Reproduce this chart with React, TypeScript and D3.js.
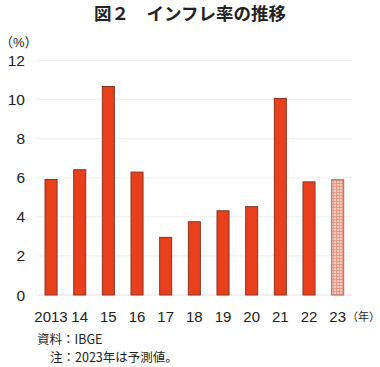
import React from "react";
import * as d3 from "d3";

const years = ["2013", "14", "15", "16", "17", "18", "19", "20", "21", "22", "23"];
const inflation = [5.91, 6.41, 10.67, 6.29, 2.95, 3.75, 4.31, 4.52, 10.06, 5.79, 5.9];
const forecast = [false, false, false, false, false, false, false, false, false, false, true];
const yTicks = [0, 2, 4, 6, 8, 10, 12];

const W = 380;
const H = 367;
const left = 36.7;
const right = 352;
const top = 60.5;
const bottom = 295;
const font = "'Noto Sans CJK JP', 'Noto Sans', sans-serif";
const numFont = "'Liberation Sans', Arial, sans-serif";

export default function App() {
  const x = d3.scaleBand<string>().domain(years).range([left, right]).paddingInner(0.58).paddingOuter(0.29);
  const y = d3.scaleLinear().domain([0, 12]).range([bottom, top]);
  return (
    <svg width={W} height={H} style={{ position: "absolute", left: 0, top: 0 }} fontFamily={font}>
      <defs>
        <pattern id="hatch" width="3" height="3" patternUnits="userSpaceOnUse">
          <rect width="3" height="3" fill="#f7cfc4" />
          <path d="M0 0.5H3M0.5 0V3" stroke="#e8826c" strokeWidth="0.7" />
        </pattern>
      </defs>
      <rect width={W} height={H} fill="#fff" />
      <text x={190} y={20} textAnchor="middle" fontSize={17.5} fontWeight="bold" fill="#222">
        図２　インフレ率の推移
      </text>
      <text x={0} y={47} fontSize={13} fill="#222">（<tspan fontFamily={numFont}>%</tspan>）</text>
      {yTicks.map((t) => (
        <g key={t}>
          <line x1={left} x2={right} y1={y(t)} y2={y(t)} stroke={t === 0 ? "#e2e2e2" : "#efefef"} strokeWidth={1} />
          <text x={25} y={y(t) + 5.5} textAnchor="end" fontSize={15.5} fontFamily={numFont} fill="#222">{t}</text>
        </g>
      ))}
      {years.map((yr, i) => (
        <rect
          key={yr}
          x={x(yr)}
          y={y(inflation[i])}
          width={x.bandwidth()}
          height={y(0) - y(inflation[i])}
          fill={forecast[i] ? "url(#hatch)" : "#e8401c"}
          stroke={forecast[i] ? "#a86a60" : "#8a3322"}
          strokeWidth={1}
        />
      ))}
      {years.map((yr) => (
        <text key={yr} x={(x(yr) as number) + x.bandwidth() / 2} y={322} textAnchor="middle" fontSize={15} fontFamily={numFont} fill="#222">
          {yr}
        </text>
      ))}
      <text x={347} y={321} fontSize={11} fill="#222">（年）</text>
      <text x={37} y={344} fontSize={12.5} fill="#222">資料：IBGE</text>
      <text x={50} y={361.5} fontSize={12.5} fill="#222">注：2023年は予測値。</text>
    </svg>
  );
}
